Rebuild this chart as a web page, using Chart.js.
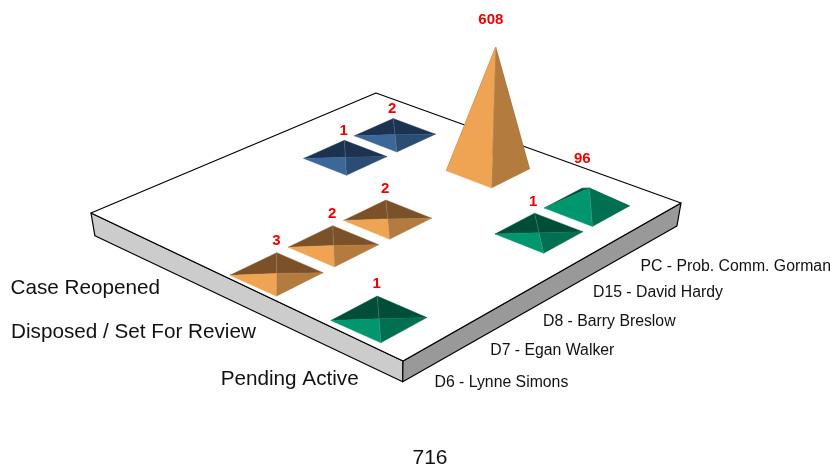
<!DOCTYPE html>
<html><head><meta charset="utf-8">
<style>html,body{margin:0;padding:0;background:#fff}canvas{display:block}</style>
<script src="https://cdn.jsdelivr.net/npm/chart.js@4"></script>
</head><body><canvas id="c" width="830" height="468"></canvas>
<script>
const categories = ['D6 - Lynne Simons','D7 - Egan Walker','D8 - Barry Breslow','D15 - David Hardy','PC - Prob. Comm. Gorman'];
const seriesNames = ['Pending Active','Disposed / Set For Review','Case Reopened'];
const pendingActive = [1,null,null,1,96];
const disposedSetForReview = [3,2,2,null,608];
const caseReopened = [null,null,null,1,2];
const totalLabel = '716';
const maxValue = 608;

const palette = [
  {back:'#004D38',left:'#00966E',right:'#006F52'},
  {back:'#7A5128',left:'#EFA453',right:'#B37B3D'},
  {back:'#1B3350',left:'#3B6799',right:'#2B4C73'}
];
const seriesValues = [pendingActive,disposedSetForReview,caseReopened];

/* slab outline: front, right, back, left corners */
const SLAB = [[403,361],[681,203],[376,93],[91,213]];
/* where the first and last category/series centres project */
const GRID = [[379,319],[587,207],[395,135],[181,232]];
const VP = [380,1900];          // vanishing point of the verticals
const Z_TOP = 0.071, Z_SLAB = -0.0135;
const HALF_U = 0.40, HALF_V = 0.235;

const H = (function(){
  const [[x0,y0],[x1,y1],[x2,y2],[x3,y3]] = GRID;
  const dx1=x1-x2,dx2=x3-x2,sx=x0-x1+x2-x3,dy1=y1-y2,dy2=y3-y2,sy=y0-y1+y2-y3;
  const det=dx1*dy2-dx2*dy1;
  const g=(sx*dy2-dx2*sy)/det,h=(dx1*sy-sx*dy1)/det;
  return {a:x1-x0+g*x1,b:x3-x0+h*x3,c:x0,d:y1-y0+g*y1,e:y3-y0+h*y3,f:y0,g,h};
})();
function floor(u,v){const w=H.g*u+H.h*v+1;return [(H.a*u+H.b*v+H.c)/w,(H.d*u+H.e*v+H.f)/w];}
function lift(p,k){return [p[0]+(p[0]-VP[0])*k,p[1]+(p[1]-VP[1])*k];}
function dec(scale,val){return scale.getDecimalForPixel(scale.getPixelForValue(val));}

function poly(ctx,pts,fill,stroke,lw){
  ctx.beginPath();pts.forEach((p,i)=>i?ctx.lineTo(p[0],p[1]):ctx.moveTo(p[0],p[1]));ctx.closePath();
  if(fill){ctx.fillStyle=fill;ctx.fill();}
  if(stroke){ctx.strokeStyle=stroke;ctx.lineWidth=lw||1;ctx.stroke();}
}
function crease(ctx,a,b){
  ctx.strokeStyle='rgba(255,255,255,0.22)';ctx.lineWidth=0.7;
  ctx.beginPath();ctx.moveTo(a[0],a[1]);ctx.lineTo(b[0],b[1]);ctx.stroke();
}

const pyramidPlugin = {
  id:'pyramids',
  afterDatasetsDraw(chart){
    const {ctx,scales:{x,y,z}} = chart;
    const U=val=>dec(x,val), V=val=>dec(y,val);
    const [F,R,B,L]=SLAB;
    ctx.save();
    ctx.lineJoin='round';
    const Fb=lift(F,Z_SLAB),Rb=lift(R,Z_SLAB),Lb=lift(L,Z_SLAB);
    poly(ctx,[L,F,Fb,Lb],'#CCCCCC','#000',1.2);
    poly(ctx,[F,R,Rb,Fb],'#999999','#000',1.2);
    poly(ctx,[F,R,B,L],'#FFFFFF','#000',1.2);
    const items=[];
    chart.data.datasets.forEach((ds,si)=>ds.data.forEach(d=>{ if(d.v!=null) items.push({d,si}); }));
    items.sort((a,b)=>(b.d.x+b.d.y)-(a.d.x+a.d.y));
    const labels=[];
    items.forEach(({d,si})=>{
      const c=palette[si];
      const cen=floor(U(d.x),V(d.y));
      const apex=lift(cen,dec(z,d.v)*Z_TOP);
      const bk=floor(U(d.x+HALF_U),V(d.y+HALF_V));
      const lf=floor(U(d.x-HALF_U),V(d.y+HALF_V));
      const fr=floor(U(d.x-HALF_U),V(d.y-HALF_V));
      const rt=floor(U(d.x+HALF_U),V(d.y-HALF_V));
      poly(ctx,[lf,bk,apex],c.back,c.back,0.4);
      poly(ctx,[bk,rt,apex],c.back,c.back,0.4);
      crease(ctx,apex,bk);
      poly(ctx,[lf,fr,apex],c.left,c.left,0.4);
      poly(ctx,[fr,rt,apex],c.right,c.right,0.4);
      crease(ctx,apex,fr);
      labels.push({t:String(d.v),x:apex[0]-(cen[0]-270)*0.022,y:apex[1]-19-0.05*cen[1]});
    });
    ctx.fillStyle='#EE0000';ctx.font='bold 15px "Liberation Sans"';ctx.textAlign='center';ctx.textBaseline='middle';
    labels.forEach(l=>ctx.fillText(l.t,l.x,l.y));
    // category labels along the right edge
    ctx.fillStyle='#111';ctx.font='15.8px "Liberation Sans"';ctx.textAlign='left';
    categories.forEach((t,i)=>{
      const p=floor(U(i),V(-0.5));
      ctx.fillText(t,p[0]+1.5,p[1]+39.7);
    });
    // series labels along the left edge
    ctx.font='20.7px "Liberation Sans"';ctx.textAlign='right';
    seriesNames.forEach((t,i)=>{
      const p=floor(U(-0.5),V(i));
      ctx.fillText(t,p[0]+9,p[1]+45-i);
    });
    ctx.restore();
  }
};

new Chart(document.getElementById('c'),{
  type:'scatter',
  plugins:[pyramidPlugin],
  data:{datasets:seriesNames.map((name,si)=>({
    label:name,
    pointRadius:0,
    data:seriesValues[si].map((v,ci)=>({x:ci,y:si,v}))
  }))},
  options:{
    responsive:false,animation:false,
    layout:{padding:{left:30,bottom:0}},
    plugins:{legend:{display:false},tooltip:{enabled:false},
      title:{display:true,position:'bottom',text:totalLabel,color:'#111',
        font:{family:'"Liberation Sans"',size:21,weight:'normal',lineHeight:0.96},padding:{top:0,bottom:0}}},
    scales:{
      x:{type:'linear',display:false,min:0,max:categories.length-1},
      y:{type:'linear',display:false,min:0,max:seriesNames.length-1},
      z:{axis:'y',type:'linear',display:false,min:0,max:maxValue}
    }
  }
});
</script></body></html>
